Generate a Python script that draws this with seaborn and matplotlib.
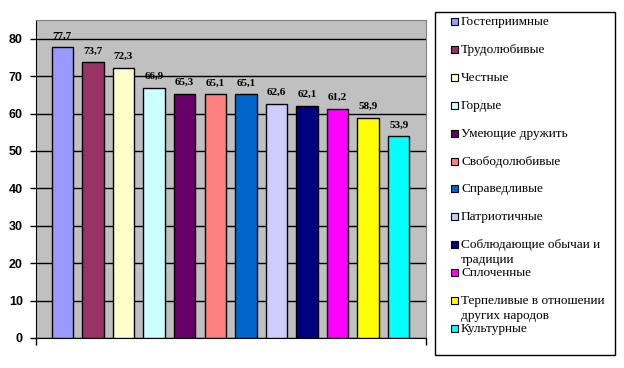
import matplotlib
matplotlib.use('Agg')
import matplotlib.pyplot as plt
from matplotlib.patches import Rectangle
import seaborn as sns

categories = ['Гостеприимные', 'Трудолюбивые', 'Честные', 'Гордые', 'Умеющие дружить',
              'Свободолюбивые', 'Справедливые', 'Патриотичные',
              'Соблюдающие обычаи и\nтрадиции', 'Сплоченные',
              'Терпеливые в отношении\nдругих народов', 'Культурные']
values = [77.7, 73.7, 72.3, 66.9, 65.3, 65.1, 65.1, 62.6, 62.1, 61.2, 58.9, 53.9]
colors = ['#9999FF', '#993366', '#FFFFCC', '#CCFFFF', '#660066', '#FF8080',
          '#0066CC', '#CCCCFF', '#000080', '#FF00FF', '#FFFF00', '#00FFFF']
yticks = [0, 10, 20, 30, 40, 50, 60, 70, 80]

W, H = 624, 368
fig = plt.figure(figsize=(W / 100, H / 100), dpi=100)
ax = fig.add_axes([36 / W, 1 - 338 / H, 390 / W, 318 / H])
ax.set_facecolor('#C0C0C0')

sns.barplot(x=list(range(len(values))), y=values, hue=list(range(len(values))),
            palette=colors, saturation=1, legend=False, edgecolor='black',
            linewidth=1, width=0.7, ax=ax, zorder=3)

ax.set_ylim(0, 85)
ax.set_xlim(-0.86, 11.89)
ax.set_yticks(yticks)
ax.yaxis.grid(True, color='black', linewidth=1, zorder=1)
ax.set_axisbelow(True)
ax.set_xticks([-0.86, 11.89])
ax.set_xticklabels(['', ''])
ax.tick_params(axis='x', length=5, width=1, direction='out')
ax.tick_params(axis='y', length=4.5, width=1, direction='out', pad=5)
for lab in ax.get_yticklabels():
    lab.set_fontfamily('Liberation Sans')
    lab.set_fontweight('bold')
    lab.set_fontsize(9)
ax.spines['top'].set_color('#808080')
ax.spines['right'].set_color('#808080')
ax.spines['left'].set_color('black')
ax.spines['bottom'].set_color('black')

for cont in ax.containers:
    ax.bar_label(cont, labels=[f'{b.get_height():.1f}'.replace('.', ',') for b in cont],
                 padding=5, fontsize=8, fontweight='bold', fontfamily='Liberation Serif')

# legend box drawn like the Excel one
fig.add_artist(Rectangle((435 / W, 1 - 355 / H), 180 / W, 343 / H,
                         transform=fig.transFigure, facecolor='white',
                         edgecolor='black', linewidth=1))
for i, (name, col) in enumerate(zip(categories, colors)):
    yc = 21 + i * 27.9
    fig.add_artist(Rectangle((451 / W, 1 - (yc + 4) / H), 7 / W, 7 / H,
                             transform=fig.transFigure, facecolor=col,
                             edgecolor='black', linewidth=0.8))
    fig.text(461 / W, 1 - (yc - 5) / H, name, ha='left', va='top',
             fontsize=9.5, fontfamily='Liberation Serif', linespacing=1.3)

fig.savefig('out.png', dpi=100)
